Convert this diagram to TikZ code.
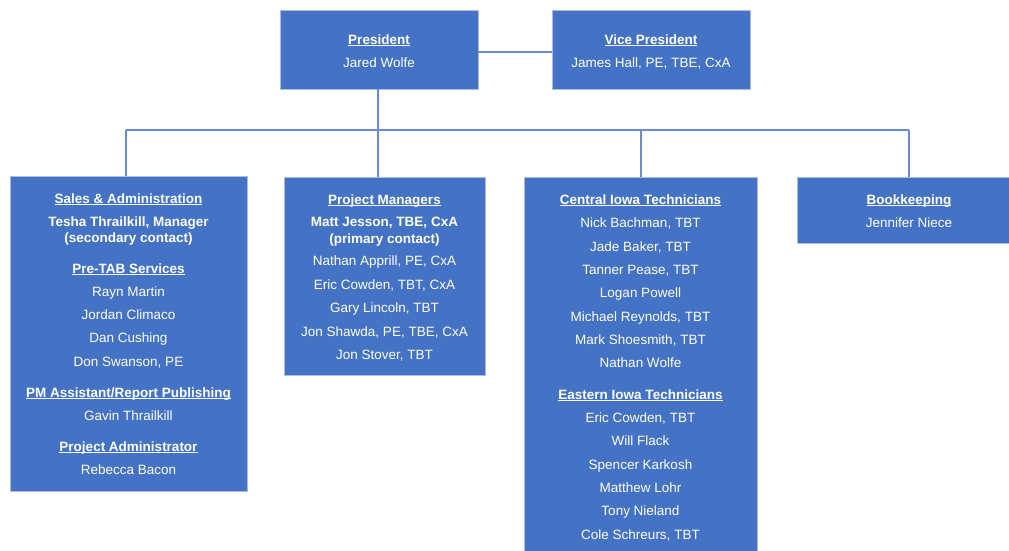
\documentclass[tikz,border=0pt]{standalone}
\usepackage{fontspec}
\setmainfont{Liberation Sans}
\definecolor{boxfill}{HTML}{4472C4}
\definecolor{boxedge}{HTML}{A9BCE4}
\definecolor{linkc}{HTML}{6A8AD2}
\newcommand\ulhead[1]{\bfseries\setbox0\hbox{#1}\rlap{\rule[-2.3pt]{\wd0}{0.9pt}}\box0}
\tikzset{
  orgbox/.style={draw=boxedge, line width=0.8pt, fill=boxfill, inner sep=0pt, outer sep=0pt, anchor=north west},
  txt/.style={text=white, inner sep=0pt, anchor=base, font=\fontsize{13.5}{16}\selectfont},
  btxt/.style={txt, font=\fontsize{13.5}{16}\selectfont\bfseries},
  link/.style={draw=linkc, line width=1.5pt}
}
\begin{document}
\begin{tikzpicture}[x=1pt,y=-1pt]
\useasboundingbox (0,0) rectangle (1009,550);
% boxes
\node[orgbox, minimum width=198pt, minimum height=79pt] (pres) at (280,10) {};
\node[orgbox, minimum width=198pt, minimum height=79pt] (vp) at (552,10) {};
\node[orgbox, minimum width=237pt, minimum height=315pt] (sales) at (10,176) {};
\node[orgbox, minimum width=201pt, minimum height=198pt] (pm) at (284,177) {};
\node[orgbox, minimum width=233pt, minimum height=380pt] (cent) at (524,177) {};
\node[orgbox, minimum width=225pt, minimum height=66pt] (book) at (797,177) {};
% connectors
\coordinate (d1) at (126,130);
\coordinate (d2) at (378,130);
\coordinate (d3) at (641,130);
\coordinate (d4) at (909,130);
\draw[link] (pres.east |- 0,52) -- (vp.west |- 0,52);
\draw[link] (d2 |- pres.south) -- (d2);
\draw[link] (d1) -- (d4);
\draw[link] (d1) -- (d1 |- sales.north);
\draw[link] (d2) -- (d2 |- pm.north);
\draw[link] (d3) -- (d3 |- cent.north);
\draw[link] (d4) -- (d4 |- book.north);
% president / vp
\node[txt] (p1) at (379,44) {\ulhead{President}};
\node[txt] (p2) at (379,67) {Jared Wolfe};
\node[txt] (v1) at (651,44) {\ulhead{Vice President}};
\node[txt] (v2) at (651,67) {James Hall, PE, TBE, CxA};
% sales
\node[txt] (s1) at (128.5,203) {\ulhead{Sales \& Administration}};
\node[btxt] (s2) at (128.5,226) {Tesha Thrailkill, Manager};
\node[btxt] (s3) at (128.5,242) {(secondary contact)};
\node[txt] (s4) at (128.5,273) {\ulhead{Pre-TAB Services}};
\node[txt] (s5) at (128.5,296) {Rayn Martin};
\node[txt] (s6) at (128.5,319) {Jordan Climaco};
\node[txt] (s7) at (128.5,342) {Dan Cushing};
\node[txt] (s8) at (128.5,366) {Don Swanson, PE};
\node[txt] (s9) at (128.5,397) {\ulhead{PM Assistant/Report Publishing}};
\node[txt] (s10) at (128.5,420) {Gavin Thrailkill};
\node[txt] (s11) at (128.5,451) {\ulhead{Project Administrator}};
\node[txt] (s12) at (128.5,474) {Rebecca Bacon};
% project managers
\node[txt] (m1) at (384.5,204) {\ulhead{Project Managers}};
\node[btxt] (m2) at (384.5,226) {Matt Jesson, TBE, CxA};
\node[btxt] (m3) at (384.5,243) {(primary contact)};
\node[txt] (m4) at (384.5,265) {Nathan Apprill, PE, CxA};
\node[txt] (m5) at (384.5,289) {Eric Cowden, TBT, CxA};
\node[txt] (m6) at (384.5,312) {Gary Lincoln, TBT};
\node[txt] (m7) at (384.5,336) {Jon Shawda, PE, TBE, CxA};
\node[txt] (m8) at (384.5,359) {Jon Stover, TBT};
% technicians
\node[txt] (c1) at (640.5,204) {\ulhead{Central Iowa Technicians}};
\node[txt] (c2) at (640.5,227) {Nick Bachman, TBT};
\node[txt] (c3) at (640.5,251) {Jade Baker, TBT};
\node[txt] (c4) at (640.5,274) {Tanner Pease, TBT};
\node[txt] (c5) at (640.5,297) {Logan Powell};
\node[txt] (c6) at (640.5,321) {Michael Reynolds, TBT};
\node[txt] (c7) at (640.5,344) {Mark Shoesmith, TBT};
\node[txt] (c8) at (640.5,367) {Nathan Wolfe};
\node[txt] (e1) at (640.5,399) {\ulhead{Eastern Iowa Technicians}};
\node[txt] (e2) at (640.5,422) {Eric Cowden, TBT};
\node[txt] (e3) at (640.5,445) {Will Flack};
\node[txt] (e4) at (640.5,469) {Spencer Karkosh};
\node[txt] (e5) at (640.5,492) {Matthew Lohr};
\node[txt] (e6) at (640.5,515) {Tony Nieland};
\node[txt] (e7) at (640.5,539) {Cole Schreurs, TBT};
% bookkeeping
\node[txt] (b1) at (909,204) {\ulhead{Bookkeeping}};
\node[txt] (b2) at (909,227) {Jennifer Niece};
\end{tikzpicture}
\end{document}
